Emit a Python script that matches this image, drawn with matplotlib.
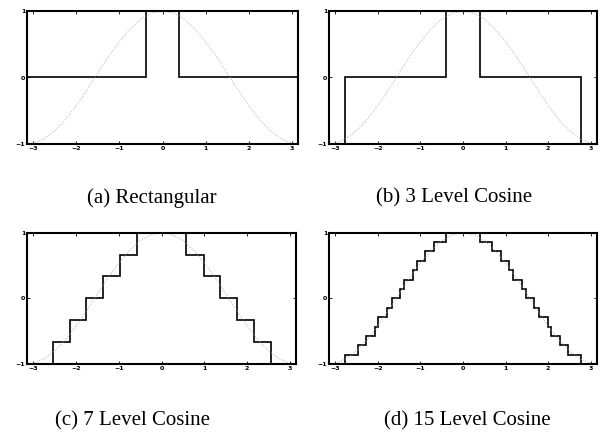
#!/usr/bin/env python3

import matplotlib as mpl
mpl.use('Agg')
import matplotlib.pyplot as plt
import numpy as np

# dotted reference cosine
ref_x = [-3.14, -3.0, -2.75, -2.5, -2.25, -2.0, -1.75, -1.5, -1.25, -1.0, -0.75,
         -0.5, -0.25, 0.0, 0.25, 0.5, 0.75, 1.0, 1.25, 1.5, 1.75, 2.0, 2.25,
         2.5, 2.75, 3.0, 3.14]
ref_y = [-1.0, -0.99, -0.92, -0.8, -0.63, -0.42, -0.18, 0.07, 0.32, 0.54, 0.73,
         0.88, 0.97, 1.0, 0.97, 0.88, 0.73, 0.54, 0.32, 0.07, -0.18, -0.42, -0.63,
         -0.8, -0.92, -0.99, -1.0]

# quantised window: step edges and level of each step
rect_edges = [-3.14, -0.39, 0.39, 3.14]
rect_levels = [0, 1, 0]

cos3_edges = [-3.14, -2.78, -0.39, 0.39, 2.78, 3.14]
cos3_levels = [-1, 0, 1, 0, -1]

cos7_edges = [-3.14, -2.55, -2.15, -1.76, -1.37, -0.98, -0.58,
              0.58, 0.98, 1.37, 1.76, 2.15, 2.55, 3.14]
cos7_levels = [-1, -0.667, -0.333, 0, 0.333, 0.667, 1,
               0.667, 0.333, 0, -0.333, -0.667, -1]

cos15_edges = [-3.14, -2.78, -2.47, -2.29, -2.07, -1.99, -1.78, -1.68, -1.49,
               -1.39, -1.17, -1.09, -0.89, -0.69, -0.39,
               0.39, 0.69, 0.89, 1.09, 1.17, 1.39, 1.49, 1.68, 1.78, 1.99,
               2.07, 2.29, 2.47, 2.78, 3.14]
cos15_levels = [-1, -0.857, -0.714, -0.571, -0.429, -0.286, -0.143, 0,
                0.143, 0.286, 0.429, 0.571, 0.714, 0.857, 1,
                0.857, 0.714, 0.571, 0.429, 0.286, 0.143, 0,
                -0.143, -0.286, -0.429, -0.571, -0.714, -0.857, -1]

captions = ['(a) Rectangular', '(b) 3 Level Cosine',
            '(c) 7 Level Cosine', '(d) 15 Level Cosine']
xticks = [-3, -2, -1, 0, 1, 2, 3]
yticks = [-1, 0, 1]


def main():
    W, H = 602., 436.
    fig = plt.figure(figsize=(W / 100, H / 100), dpi=100)

    # axes boxes in pixels: left, top, right, bottom
    boxes = [(27.3, 11, 297.7, 144), (329.3, 11, 596.7, 144),
             (27.3, 232.7, 296, 364), (329.3, 232.7, 596.7, 364)]
    panels = [(rect_edges, rect_levels), (cos3_edges, cos3_levels),
              (cos7_edges, cos7_levels), (cos15_edges, cos15_levels)]
    cap_pos = [(152, 198), (454, 198), (132.5, 421), (467, 421)]

    for box, (edges, levels), cap, cp in zip(boxes, panels, captions, cap_pos):
        l, t, r, b = box
        ax = fig.add_axes([l / W, 1 - b / H, (r - l) / W, (b - t) / H])
        ax.plot(ref_x, ref_y, color='0.65', lw=0.6, ls=(0, (1, 1.5)))
        ax.stairs(levels, edges, color='k', lw=1.2, baseline=None)
        ax.set_xlim(-np.pi, np.pi)
        ax.set_ylim(-1, 1)
        ax.set_xticks(xticks)
        ax.set_yticks(yticks)
        ax.tick_params(direction='in', length=2.5, width=0.6, top=True,
                       right=True, labelsize=4.5, pad=1.5)
        for lab in ax.get_xticklabels() + ax.get_yticklabels():
            lab.set_fontweight('bold')
        for s in ax.spines.values():
            s.set_linewidth(1.5)
        fig.text(cp[0] / W, 1 - cp[1] / H, cap, ha='center', va='center',
                 fontsize=15, family='Liberation Serif')

    fig.savefig('out.png', dpi=100)
    print("Created out.png")


if __name__ == '__main__':
    main()
